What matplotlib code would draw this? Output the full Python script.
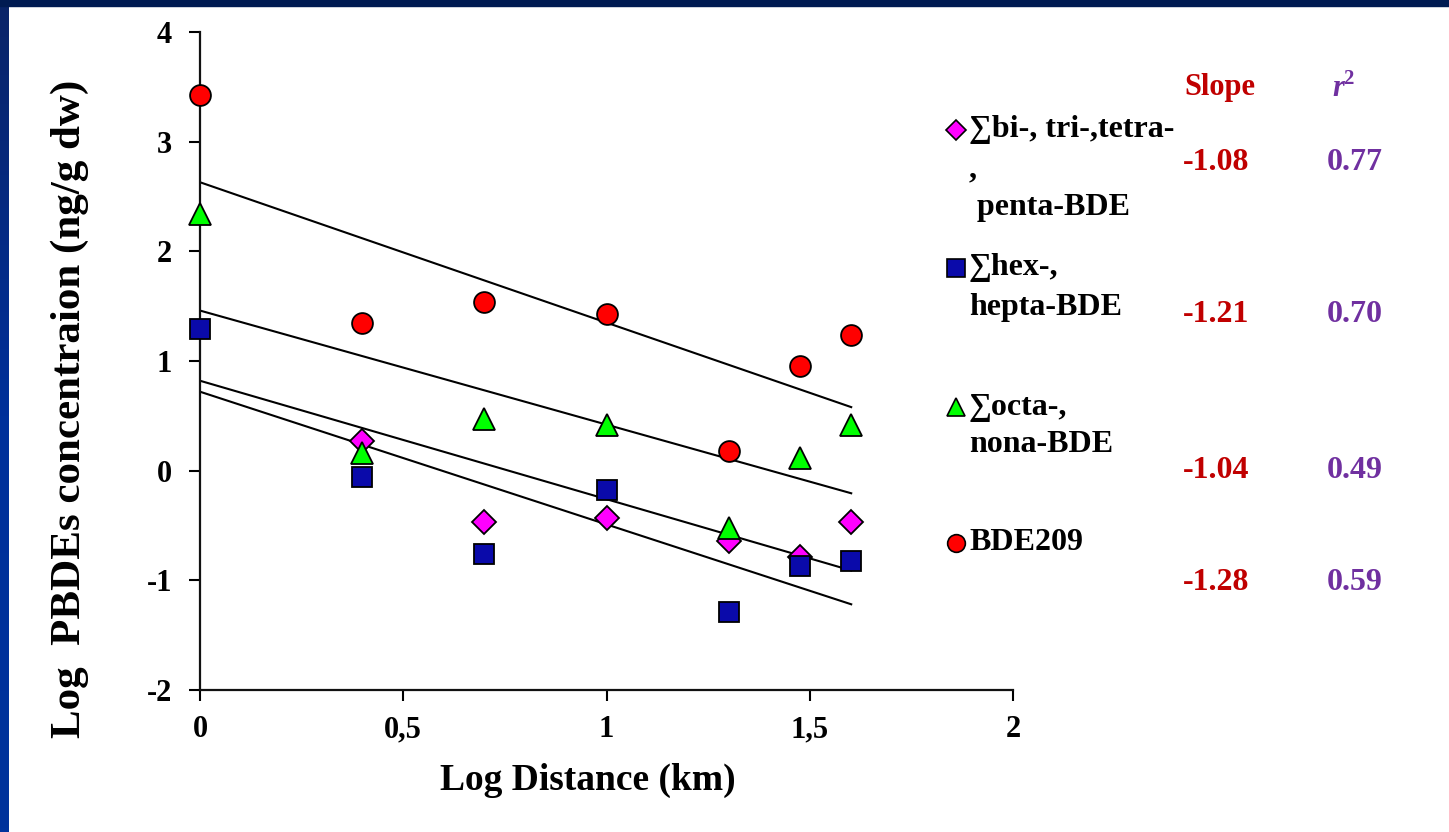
import numpy as np
import matplotlib
matplotlib.use("Agg")
import matplotlib.pyplot as plt
from matplotlib.patches import Rectangle

plt.rcParams['font.family'] = ['Liberation Serif', 'DejaVu Serif']
plt.rcParams['font.weight'] = 'bold'

# log10 of sampling distance (km)
log_dist = [0.0, 0.398, 0.699, 1.0, 1.301, 1.477, 1.602]

# log PBDE concentrations per congener group
bi_penta = [None, 0.27, -0.47, -0.43, -0.64, -0.79, -0.47]
hex_hepta = [1.29, -0.06, -0.76, -0.18, -1.29, -0.87, -0.82]
octa_nona = [2.34, 0.16, 0.47, 0.42, -0.52, 0.12, 0.42]
bde209 = [3.43, 1.35, 1.54, 1.43, 0.18, 0.95, 1.24]

# regression results
slopes = [-1.08, -1.21, -1.04, -1.28]
intercepts = [0.82, 0.72, 1.46, 2.63]
r2 = [0.77, 0.70, 0.49, 0.59]

group_labels = [["\u2211bi-, tri-,tetra-", ",", " penta-BDE"],
                ["\u2211hex-,", "hepta-BDE"],
                ["\u2211octa-,", "nona-BDE"],
                ["BDE209"]]
markers = ['D', 's', '^', 'o']
colors = ['#FF00FF', '#0A0AAA', '#00FF00', '#FF0000']
sizes = [12, 15, 16, 15]

W, H = 1449, 832
fig = plt.figure(figsize=(W / 100, H / 100), dpi=100)
fig.patch.set_facecolor('white')

ax = fig.add_axes([200 / W, 1 - 690 / H, 813 / W, 658 / H])
ax.set_xlim(0, 2)
ax.set_ylim(-2, 4)

series = [bi_penta, hex_hepta, octa_nona, bde209]

# regression lines first, points on top
xfit = np.array([0, max(log_dist)])
for s, b in zip(slopes, intercepts):
    ax.plot(xfit, b + s * xfit, color='black', lw=1.5, zorder=2)

for ys, m, c, ms in zip(series, markers, colors, sizes):
    pts = [(x, y) for x, y in zip(log_dist, ys) if y is not None]
    xs, yv = zip(*pts)
    ax.plot(xs, yv, linestyle='none', marker=m, markersize=ms, markerfacecolor=c,
            markeredgecolor='black', markeredgewidth=1.3, clip_on=False, zorder=3)

for side in ['top', 'right']:
    ax.spines[side].set_visible(False)
for side in ['left', 'bottom']:
    ax.spines[side].set_linewidth(1.6)
    ax.spines[side].set_color('#111111')

ax.set_xticks([0, 0.5, 1, 1.5, 2])
ax.set_xticklabels(['0', '0,5', '1', '1,5', '2'])
ax.set_yticks([-2, -1, 0, 1, 2, 3, 4])
ax.set_yticklabels(['-2', '-1', '0', '1', '2', '3', '4'])
ax.tick_params(direction='out', length=8, width=1.5, labelsize=22, pad=10)
ax.tick_params(axis='y', pad=12)
for lab in ax.get_xticklabels() + ax.get_yticklabels():
    lab.set_fontweight('bold')

# overlay in pixel coordinates for the labels, legend, stats table and frame
ov = fig.add_axes([0, 0, 1, 1])
ov.set_xlim(0, W)
ov.set_ylim(H, 0)
ov.axis('off')

ov.text(588, 780, 'Log Distance (km)', fontsize=27, fontweight='bold', ha='center', va='center')
ov.text(70, 409, 'Log  PBDEs concentraion (ng/g dw)', fontsize=31, fontweight='bold',
        rotation=90, ha='center', va='center')

# frame bars
ov.add_patch(Rectangle((0, 0), W, 6, color='#001B52', zorder=5))
grad = np.linspace(0, 1, 200).reshape(-1, 1)
ov.imshow(grad, extent=(0, 9, H, 0), aspect='auto', zorder=4,
          cmap=matplotlib.colors.LinearSegmentedColormap.from_list('bar', ['#0A2468', '#00309A', '#00339C']))
ov.set_xlim(0, W)
ov.set_ylim(H, 0)

leg_y = [130, 268, 407, 543]
line_gap = [[0, 40, 78], [0, 39], [0, 38], [0]]
for yy, lines, gaps, m, c, ms in zip(leg_y, group_labels, line_gap, markers, colors, sizes):
    ov.plot([956], [yy], linestyle='none', marker=m, markersize=ms * 0.85, markerfacecolor=c,
            markeredgecolor='black', markeredgewidth=1.2)
    for txt, g in zip(lines, gaps):
        ov.text(969, yy + g, txt, fontsize=23, fontweight='bold', va='center', ha='left')

ov.text(1220, 87, 'Slope', fontsize=22, fontweight='bold', color='#C00000', ha='center', va='center')
ov.text(1338, 89, 'r', fontsize=22, fontweight='bold', style='italic', color='#7030A0',
        ha='center', va='center')
ov.text(1348, 79, '2', fontsize=15, fontweight='bold', color='#7030A0', ha='center', va='center')

val_y = [162, 315, 470, 583]
for yy, s, r in zip(val_y, slopes, r2):
    ov.text(1216, yy, f'{s:.2f}', fontsize=23, fontweight='bold', color='#C00000', ha='center', va='center')
    ov.text(1355, yy, f'{r:.2f}', fontsize=23, fontweight='bold', color='#7030A0', ha='center', va='center')

fig.savefig('out.png', dpi=100)
